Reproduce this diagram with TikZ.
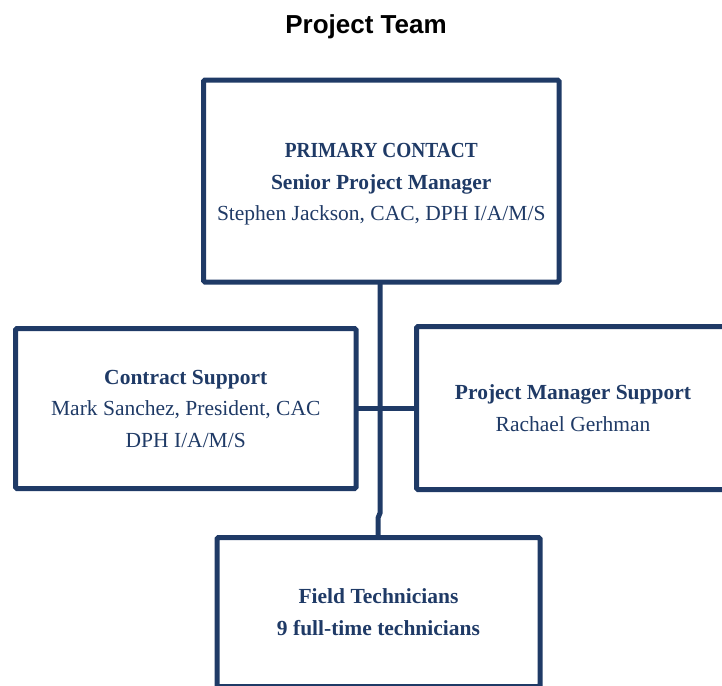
\documentclass[tikz,border=0pt]{standalone}
\usepackage{fontspec}
\setmainfont{Liberation Serif}
\newfontfamily\titlefont{Liberation Sans}
\definecolor{navy}{RGB}{31,58,102}
\tikzset{
  orgbox/.style={draw=navy, line width=5pt, rectangle, outer sep=0pt, inner sep=0pt,
    rounded corners=1.5pt, align=center, text=navy,
    font=\fontsize{21.5}{31.5}\selectfont},
  orgtext/.style={align=center, text=navy, inner sep=0pt,
    font=\fontsize{21.5}{31.5}\selectfont},
  link/.style={draw=navy, line width=5pt}
}
\begin{document}
\begin{tikzpicture}[x=1pt,y=-1pt]
\useasboundingbox (0,0) rectangle (722,685);
\clip (0,0) rectangle (722,685);
\node[font=\titlefont\bfseries\fontsize{26}{30}\selectfont] (title) at (366,27) {Project Team};
\node[orgbox, minimum width=355.5pt, minimum height=202pt] (pc) at (381.25,181) {};
\node[orgtext] (pctext) at ([yshift=-3.5pt]pc.center)
  {\textbf{\scalebox{0.9}[1]{PRIMARY CONTACT}}\\ \textbf{Senior Project Manager}\\ Stephen Jackson, CAC, DPH I/A/M/S};
\node[orgbox, minimum width=340.5pt, minimum height=160pt] (cs) at (185.75,408.5)
  {\textbf{Contract Support}\\ Mark Sanchez, President, CAC\\ DPH I/A/M/S};
\node[orgbox, minimum width=313pt, minimum height=163pt] (pm) at (573,408)
  {\textbf{Project Manager Support}\\ Rachael Gerhman};
\node[orgbox, minimum width=323pt, minimum height=149pt] (ft) at (378.5,612)
  {\textbf{Field Technicians}\\ \textbf{9 full-time technicians}};
\coordinate (j1) at (380,513);
\coordinate (j2) at (378,518);
\draw[link] (j1 |- pc.south) -- (j1) -- (j2) -- (j2 |- ft.north);
\draw[link] (cs.east |- 0,408) -- (pm.west |- 0,408);
\end{tikzpicture}
\end{document}
